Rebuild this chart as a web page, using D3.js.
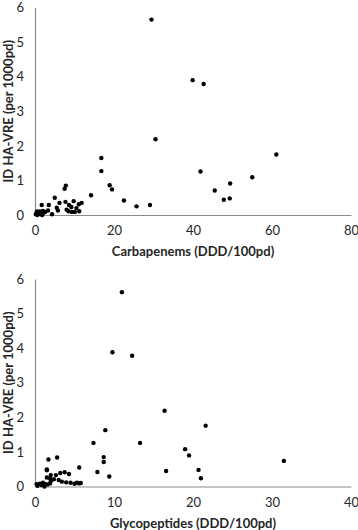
<!DOCTYPE html>
<html lang="en">
  <head>
    <meta charset="UTF-8" />
    <title>HA-VRE vs antibiotic use</title>
    <style>
      body {
        margin: 0;
        background: #fff;
      }
      .axis text {
        font-family: Lato, 'Open Sans', sans-serif;
        font-size: 13px;
        fill: #262626;
      }
      .axis .domain {
        stroke: #8c8c8c;
        stroke-width: 1.2;
      }
      .title {
        font-family: Lato, 'Open Sans', sans-serif;
        font-weight: bold;
        font-size: 13px;
        fill: #262626;
      }
    </style>
  </head>
  <body>
    <script src="https://d3js.org/d3.v7.min.js"></script>
    <script>
      // carbapenems (DDD/100pd) vs incidence density of HA-VRE (per 1000pd)
      const carbDDD = [
        0.2, 0.4, 0.6, 0.8, 1.0, 1.2, 1.5, 0.5, 1.8, 2.1, 2.6, 3.3, 4.3, 1.7, 3.5, 2.0,
        5.0, 5.5, 5.8, 6.2, 7.5, 7.8, 7.7, 8.6, 9.2, 8.5, 9.3, 10.1, 11.2, 9.8, 11.1, 11.8, 8.0, 10.5,
        14.2, 16.8, 16.8, 18.9, 19.5, 22.5, 25.7, 29.1, 29.5, 30.5, 39.9, 42.7, 41.9, 45.5, 47.8,
        49.3, 49.4, 55.0, 61.1,
      ];
      const carbVRE = [
        0.02, 0.05, 0.0, 0.08, 0.03, 0.1, 0.05, 0.1, 0.0, 0.06, 0.09, 0.13, 0.02, 0.29, 0.29, 0.12,
        0.5, 0.21, 0.13, 0.35, 0.76, 0.85, 0.38, 0.29, 0.23, 0.11, 0.09, 0.09, 0.11, 0.4, 0.31, 0.35, 0.15, 0.2,
        0.57, 1.65, 1.27, 0.86, 0.74, 0.42, 0.25, 0.29, 5.65, 2.19, 3.9, 3.79, 1.26, 0.71, 0.44,
        0.48, 0.91, 1.09, 1.75,
      ];

      // glycopeptides (DDD/100pd) vs incidence density of HA-VRE (per 1000pd)
      const glycoDDD = [
        0.2, 0.3, 0.6, 0.8, 1.0, 1.2, 1.3, 1.6, 1.9, 2.0, 1.5, 1.9, 2.4, 3.0, 3.4, 3.95, 4.5, 5.0,
        5.3, 5.6, 5.8, 1.5, 2.0, 2.65, 3.2, 3.75, 4.3, 1.5, 1.7, 2.8, 5.6, 7.4, 7.9, 8.7, 8.7, 8.9,
        9.4, 9.8, 11.0, 12.3, 13.3, 16.4, 16.6, 19.0, 19.5, 20.7, 21.0, 21.6, 31.5,
      ];
      const glycoVRE = [
        0.07, 0.02, 0.08, 0.04, 0.11, 0.0, 0.07, 0.06, 0.09, 0.16, 0.26, 0.24, 0.21, 0.19, 0.14, 0.12, 0.11, 0.08,
        0.11, 0.09, 0.1, 0.49, 0.33, 0.33, 0.39, 0.41, 0.36, 0.47, 0.78, 0.84, 0.55, 1.26, 0.42, 0.85, 0.71, 1.63,
        0.29, 3.88, 5.62, 3.78, 1.26, 2.19, 0.45, 1.08, 0.9, 0.48, 0.24, 1.76, 0.74,
      ];

      const yTicks = [0, 1, 2, 3, 4, 5, 6];
      const carbTicks = [0, 20, 40, 60, 80];
      const glycoTicks = [0, 10, 20, 30, 40];
      const yTitle = 'ID HA-VRE (per 1000pd)';

      const width = 358;
      const height = 530;

      const svg = d3.select('body').append('svg').attr('width', width).attr('height', height);

      function makePanel(top, xs, ys, xTicks, xTitle) {
        const margin = { left: 35, right: 7 };
        const plotTop = top;
        const plotBottom = top + 207.5;

        const xScale = d3
          .scaleLinear()
          .domain([xTicks[0], xTicks[xTicks.length - 1]])
          .range([margin.left, width - margin.right]);
        const yScale = d3.scaleLinear().domain([0, 6]).range([plotBottom, plotTop]);

        const g = svg.append('g');

        g.append('g')
          .attr('class', 'axis')
          .attr('transform', `translate(0, ${plotBottom})`)
          .call(
            d3
              .axisBottom(xScale)
              .tickValues(xTicks)
              .tickFormat(d3.format('d'))
              .tickSize(0)
              .tickPadding(11)
              .tickSizeOuter(0)
          );

        g.append('g')
          .attr('class', 'axis')
          .attr('transform', `translate(${margin.left}, 0)`)
          .call(
            d3
              .axisLeft(yScale)
              .tickValues(yTicks)
              .tickFormat(d3.format('d'))
              .tickSize(0)
              .tickPadding(11)
              .tickSizeOuter(0)
          );

        const points = xs.map((x, i) => ({ x: x, y: ys[i] }));
        g.append('g')
          .selectAll('circle')
          .data(points)
          .join('circle')
          .attr('cx', (d) => xScale(d.x))
          .attr('cy', (d) => yScale(d.y))
          .attr('r', 2.2)
          .attr('fill', '#000');

        g.append('text')
          .attr('class', 'title')
          .attr('x', (margin.left + width - margin.right) / 2)
          .attr('y', plotBottom + 41)
          .attr('text-anchor', 'middle')
          .text(xTitle);

        g.append('text')
          .attr('class', 'title')
          .attr('transform', `translate(13, ${(plotTop + plotBottom) / 2}) rotate(-90)`)
          .attr('text-anchor', 'middle')
          .text(yTitle);
      }

      makePanel(7.5, carbDDD, carbVRE, carbTicks, 'Carbapenems (DDD/100pd)');
      makePanel(279, glycoDDD, glycoVRE, glycoTicks, 'Glycopeptides (DDD/100pd)');
    </script>
  </body>
</html>
